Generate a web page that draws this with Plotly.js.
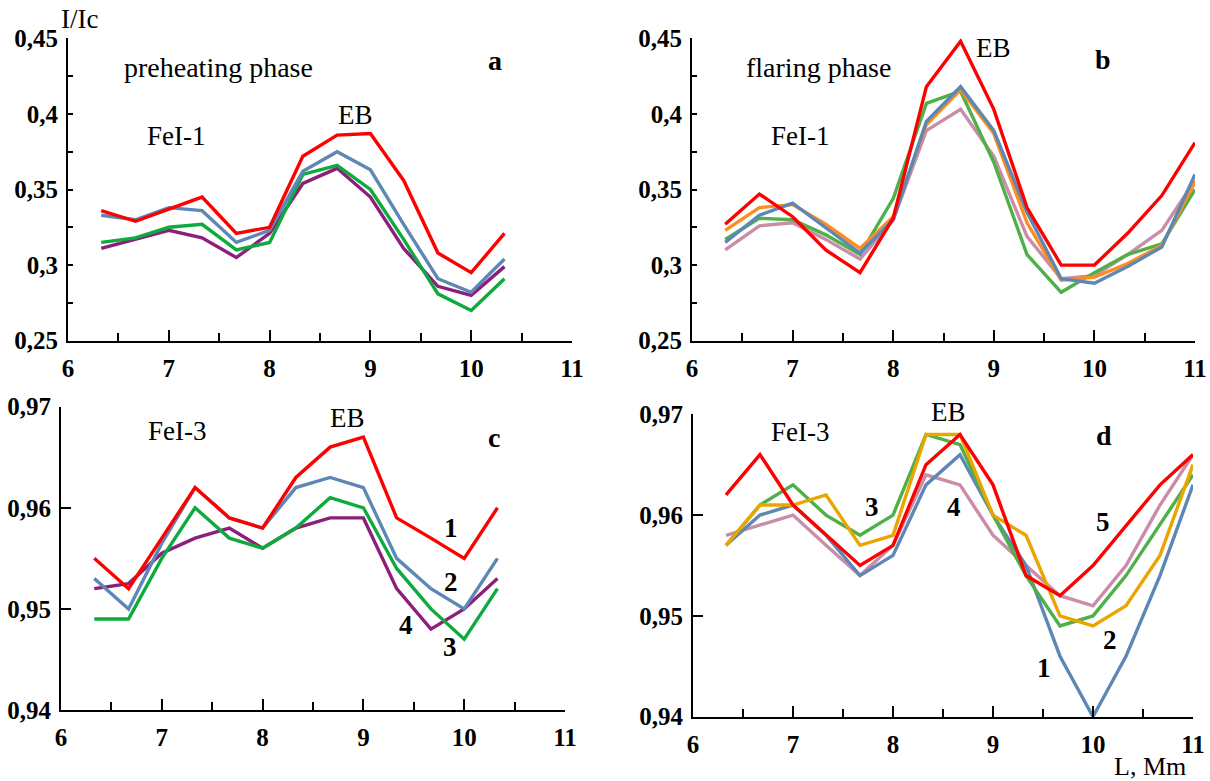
<!DOCTYPE html>
<html>
<head>
<meta charset="utf-8">
<script src="https://cdn.plot.ly/plotly-3.0.1.min.js"></script>
<style>html,body{margin:0;padding:0;background:#fff;}#chart{width:1210px;height:781px;}</style>
</head>
<body>
<div id="chart"></div>
<script>
// ---- data ----
const L_short = [6.33, 6.67, 7, 7.33, 7.67, 8, 8.33, 8.67, 9, 9.33, 9.67, 10, 10.33];
const L_long  = [6.33, 6.67, 7, 7.33, 7.67, 8, 8.33, 8.67, 9, 9.33, 9.67, 10, 10.33, 10.67, 11];

// panel a: FeI-1, preheating phase
const a_red    = [0.336, 0.329, 0.337, 0.345, 0.321, 0.325, 0.372, 0.386, 0.387, 0.356, 0.308, 0.295, 0.321];
const a_blue   = [0.333, 0.330, 0.338, 0.336, 0.315, 0.323, 0.362, 0.375, 0.363, 0.327, 0.291, 0.282, 0.304];
const a_green  = [0.315, 0.318, 0.325, 0.327, 0.310, 0.315, 0.360, 0.366, 0.350, 0.317, 0.281, 0.270, 0.291];
const a_purple = [0.311, 0.317, 0.323, 0.318, 0.305, 0.321, 0.354, 0.364, 0.345, 0.311, 0.286, 0.280, 0.299];

// panel b: FeI-1, flaring phase
const b_red    = [0.327, 0.347, 0.332, 0.310, 0.295, 0.331, 0.418, 0.448, 0.403, 0.338, 0.300, 0.300, 0.321, 0.346, 0.381];
const b_green  = [0.317, 0.331, 0.330, 0.320, 0.307, 0.344, 0.407, 0.415, 0.368, 0.307, 0.282, 0.295, 0.307, 0.314, 0.350];
const b_orange = [0.323, 0.338, 0.340, 0.327, 0.311, 0.332, 0.393, 0.416, 0.387, 0.328, 0.290, 0.292, 0.301, 0.313, 0.355];
const b_blue   = [0.315, 0.333, 0.341, 0.325, 0.308, 0.330, 0.395, 0.418, 0.389, 0.335, 0.291, 0.288, 0.299, 0.312, 0.360];
const b_pink   = [0.310, 0.326, 0.328, 0.317, 0.304, 0.330, 0.389, 0.403, 0.372, 0.319, 0.291, 0.293, 0.307, 0.323, 0.356];

// panel c: FeI-3 (1 red, 2 blue, 3 green, 4 purple)
const c_red    = [0.955, 0.952, 0.957, 0.962, 0.959, 0.958, 0.963, 0.966, 0.967, 0.959, 0.957, 0.955, 0.960];
const c_blue   = [0.953, 0.950, 0.9565, 0.962, 0.959, 0.958, 0.962, 0.963, 0.962, 0.955, 0.952, 0.950, 0.955];
const c_green  = [0.949, 0.949, 0.955, 0.960, 0.957, 0.956, 0.958, 0.961, 0.960, 0.954, 0.950, 0.947, 0.952];
const c_purple = [0.952, 0.9525, 0.9555, 0.957, 0.958, 0.956, 0.958, 0.959, 0.959, 0.952, 0.948, 0.950, 0.953];

// panel d: FeI-3 (1 blue, 2 orange, 3 green, 4 pink, 5 red)
const d_pink   = [0.958, 0.959, 0.960, 0.957, 0.954, 0.957, 0.964, 0.963, 0.958, 0.955, 0.952, 0.951, 0.955, 0.961, 0.966];
const d_blue   = [0.957, 0.960, 0.961, 0.958, 0.954, 0.956, 0.963, 0.966, 0.960, 0.955, 0.946, 0.940, 0.946, 0.954, 0.963];
const d_green  = [0.957, 0.961, 0.963, 0.960, 0.958, 0.960, 0.968, 0.967, 0.960, 0.954, 0.949, 0.950, 0.954, 0.959, 0.964];
const d_orange = [0.957, 0.961, 0.961, 0.962, 0.957, 0.958, 0.968, 0.968, 0.960, 0.958, 0.950, 0.949, 0.951, 0.956, 0.965];
const d_red    = [0.962, 0.966, 0.961, 0.958, 0.955, 0.957, 0.965, 0.968, 0.963, 0.954, 0.952, 0.955, 0.959, 0.963, 0.966];

// tick labels
const xTickVals = [6, 7, 8, 9, 10, 11];
const xTickText = ['6', '7', '8', '9', '10', '11'];
const xMinorVals = [6.5, 7.5, 8.5, 9.5, 10.5];
const yTopVals = [0.25, 0.3, 0.35, 0.4, 0.45];
const yTopText = ['0,25', '0,3', '0,35', '0,4', '0,45'];
const yTopMinor = [0.275, 0.325, 0.375, 0.425];
const yBotVals = [0.94, 0.95, 0.96, 0.97];
const yBotText = ['0,94', '0,95', '0,96', '0,97'];

// ---- styling ----
const C = {
  red: '#ff0000', steel: '#5d87b5', greenA: '#0eaa3e', purple: '#8c1f7c',
  greenB: '#4fb049', orangeB: '#ff8c1e', pink: '#c98ca9', amber: '#eba500'
};
const W = 1210, H = 781;
const LW = 3.4;
const SERIF = 'Liberation Serif';

function tr(x, y, color, xa, ya) {
  return {x: x, y: y, type: 'scatter', mode: 'lines', xaxis: xa, yaxis: ya,
          line: {color: color, width: LW}, hoverinfo: 'skip', showlegend: false};
}

const data = [
  tr(L_short, a_purple, C.purple, 'x', 'y'),
  tr(L_short, a_green, C.greenA, 'x', 'y'),
  tr(L_short, a_blue, C.steel, 'x', 'y'),
  tr(L_short, a_red, C.red, 'x', 'y'),

  tr(L_long, b_pink, C.pink, 'x2', 'y2'),
  tr(L_long, b_green, C.greenB, 'x2', 'y2'),
  tr(L_long, b_orange, C.orangeB, 'x2', 'y2'),
  tr(L_long, b_blue, C.steel, 'x2', 'y2'),
  tr(L_long, b_red, C.red, 'x2', 'y2'),

  tr(L_short, c_purple, C.purple, 'x3', 'y3'),
  tr(L_short, c_green, C.greenA, 'x3', 'y3'),
  tr(L_short, c_blue, C.steel, 'x3', 'y3'),
  tr(L_short, c_red, C.red, 'x3', 'y3'),

  tr(L_long, d_pink, C.pink, 'x4', 'y4'),
  tr(L_long, d_blue, C.steel, 'x4', 'y4'),
  tr(L_long, d_green, C.greenB, 'x4', 'y4'),
  tr(L_long, d_orange, C.amber, 'x4', 'y4'),
  tr(L_long, d_red, C.red, 'x4', 'y4')
];

function tickFont() { return {family: SERIF, size: 25, color: '#000', weight: 700}; }
function bold(arr) { return arr.map(function (s) { return '<b>' + s + '</b>'; }); }

function px(x0, x1) { return [x0 / W, x1 / W]; }
function py(top, bottom) { return [1 - bottom / H, 1 - top / H]; }

function xax(domain, anchor) {
  return {
    domain: domain, anchor: anchor, range: [6, 11], showgrid: false, zeroline: false,
    showline: true, linecolor: '#000', linewidth: 2,
    tickmode: 'array', tickvals: xTickVals, ticktext: bold(xTickText),
    ticks: 'inside', ticklen: 11, tickwidth: 2, tickcolor: '#000',
    minor: {tickmode: 'array', tickvals: xMinorVals, ticks: 'inside', ticklen: 8, tickwidth: 2, tickcolor: '#000', showgrid: false},
    tickfont: tickFont(), ticklabelstandoff: 4, fixedrange: true
  };
}
function yax(domain, anchor, rng, vals, text, minorVals, tlen) {
  const o = {
    domain: domain, anchor: anchor, range: rng, showgrid: false, zeroline: false,
    showline: true, linecolor: '#000', linewidth: 2,
    tickmode: 'array', tickvals: vals, ticktext: bold(text),
    ticks: 'inside', ticklen: tlen, tickwidth: 2, tickcolor: '#000',
    tickfont: tickFont(), ticklabelstandoff: 3, fixedrange: true
  };
  if (minorVals) o.minor = {tickmode: 'array', tickvals: minorVals, ticks: 'inside', ticklen: tlen, tickwidth: 2, tickcolor: '#000', showgrid: false};
  return o;
}

function ann(text, xp, yp, size, isBold) {
  return {text: isBold ? '<b>' + text + '</b>' : text, xref: 'paper', yref: 'paper', x: xp / W, y: 1 - yp / H,
          xanchor: 'center', yanchor: 'middle', showarrow: false, borderpad: 0,
          font: {family: SERIF, size: size, color: '#000'}};
}

const layout = {
  width: W, height: H, margin: {l: 0, r: 0, t: 0, b: 0},
  paper_bgcolor: '#fff', plot_bgcolor: '#fff', showlegend: false,
  font: {family: SERIF, color: '#000'},
  xaxis: xax(px(68, 572), 'y'),
  yaxis: yax(py(38.3, 340.7), 'x', [0.25, 0.45], yTopVals, yTopText, yTopMinor, 5),
  xaxis2: xax(px(692, 1195), 'y2'),
  yaxis2: yax(py(38.3, 340.7), 'x2', [0.25, 0.45], yTopVals, yTopText, yTopMinor, 5),
  xaxis3: xax(px(61, 565), 'y3'),
  yaxis3: yax(py(406.7, 710), 'x3', [0.94, 0.97], yBotVals, yBotText, null, 10),
  xaxis4: xax(px(693, 1193), 'y4'),
  yaxis4: yax(py(414.3, 716.7), 'x4', [0.94, 0.97], yBotVals, yBotText, null, 10),
  annotations: [
    ann('I/Ic', 79, 19, 27),
    ann('preheating phase', 218, 67, 28),
    ann('a', 495, 61, 28, true),
    ann('FeI-1', 176, 136, 27),
    ann('EB', 355, 115, 27),

    ann('flaring phase', 818, 67, 28),
    ann('EB', 993, 48, 27),
    ann('b', 1103, 60, 28, true),
    ann('FeI-1', 800, 136, 27),

    ann('FeI-3', 177, 431, 27),
    ann('EB', 347, 418, 27),
    ann('c', 494, 437, 28, true),
    ann('1', 451, 528, 27, true),
    ann('2', 451, 582, 27, true),
    ann('4', 406, 625, 27, true),
    ann('3', 450, 647, 27, true),

    ann('FeI-3', 800, 432, 27),
    ann('EB', 948, 412, 27),
    ann('d', 1104, 435, 28, true),
    ann('3', 872, 507, 27, true),
    ann('4', 954, 507, 27, true),
    ann('5', 1103, 522, 27, true),
    ann('2', 1110, 640, 27, true),
    ann('1', 1044, 668, 27, true),
    ann('L, Mm', 1150, 766, 26)
  ]
};

Plotly.newPlot('chart', data, layout, {staticPlot: true, displayModeBar: false});
</script>
</body>
</html>
